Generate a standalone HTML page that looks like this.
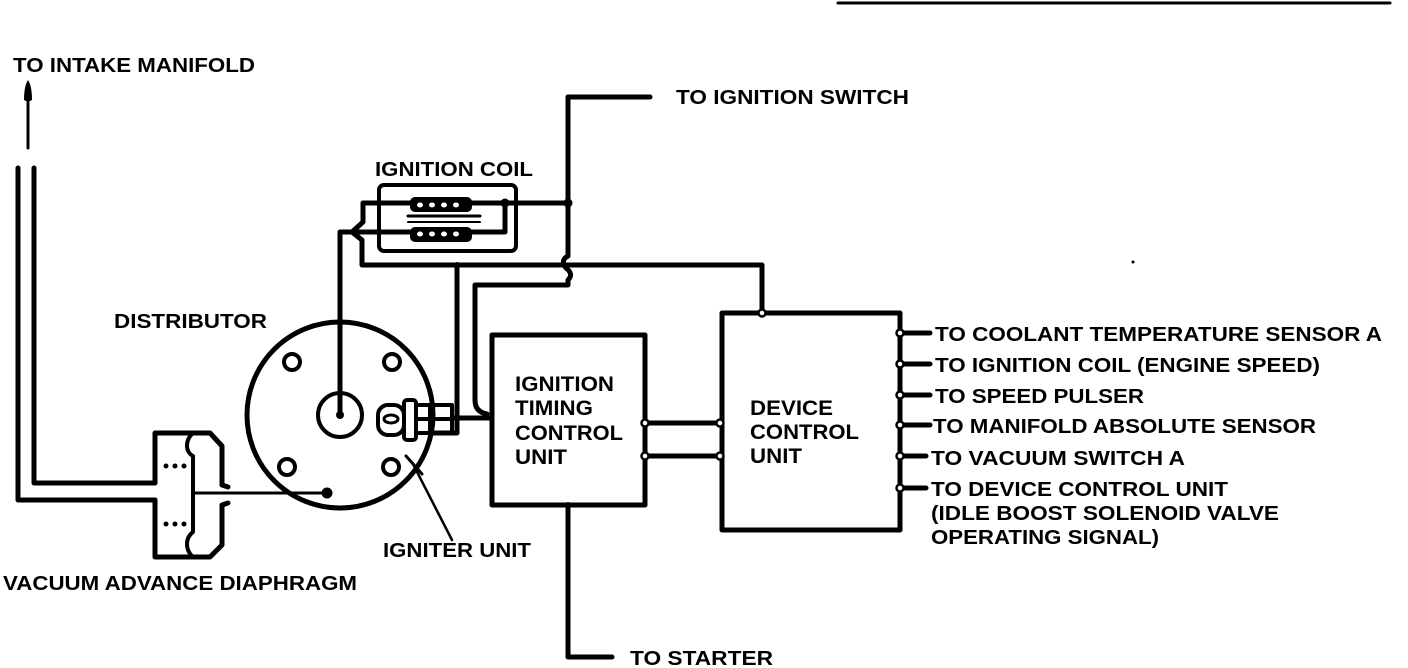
<!DOCTYPE html>
<html><head><meta charset="utf-8"><style>
html,body{margin:0;padding:0;background:#fff;}
svg{display:block;}
text{font-family:"Liberation Sans",Arial,sans-serif;font-weight:bold;fill:#000;}
</style></head><body>
<svg width="1408" height="668" viewBox="0 0 1408 668" xmlns="http://www.w3.org/2000/svg">
<g fill="none" stroke="#000" stroke-width="5" stroke-linejoin="round" stroke-linecap="round">
<line x1="838" y1="3" x2="1390" y2="3" stroke-width="3"/>
<line x1="28" y1="92" x2="28" y2="148" stroke-width="3"/>
<path d="M18,168 V500 H155"/>
<path d="M34,168 V483 H155"/>
<path d="M155,483 V433 H210 L222,446 V485 L228,487"/>
<path d="M155,500 V557 H210 L222,545 V505 L228,503"/>
<path d="M193,433 C185,440 185,452 193,456 V532 C185,538 185,550 193,557" stroke-width="4"/>
<line x1="195" y1="493" x2="326" y2="493" stroke-width="3"/>
<circle cx="327" cy="493" r="3" fill="#000"/>
<circle cx="340" cy="415" r="93"/>
<circle cx="340" cy="415" r="22" stroke-width="4"/>
<circle cx="292" cy="362" r="8" stroke-width="4"/>
<circle cx="392" cy="362" r="8" stroke-width="4"/>
<circle cx="287" cy="467" r="8" stroke-width="4"/>
<circle cx="391" cy="467" r="8" stroke-width="4"/>
<rect x="378" y="405" width="26" height="30" rx="10" stroke-width="4"/>
<ellipse cx="391" cy="419" rx="7" ry="4" stroke-width="3"/>
<rect x="404" y="400" width="12" height="40" rx="3" stroke-width="4"/>
<rect x="416" y="405" width="36" height="28" stroke-width="4"/>
<line x1="430" y1="405" x2="430" y2="433" stroke-width="4"/>
<line x1="416" y1="419" x2="452" y2="419" stroke-width="4"/>
<line x1="452" y1="540" x2="414" y2="466" stroke-width="2.5"/>
<path d="M406,456 L422,474" stroke-width="3"/>
<rect x="379" y="185" width="137" height="66" rx="5" stroke-width="4"/>
<line x1="408" y1="216" x2="480" y2="216" stroke-width="3"/>
<line x1="408" y1="222" x2="480" y2="222" stroke-width="2"/>
<path d="M410,203 H363 V222 L352,232"/>
<path d="M410,232 H340 V415"/>
<path d="M470,203 H568"/>
<path d="M470,232 H505 V203"/>
<path d="M568,97 V256 q-8,4 -2,12 q8,6 2,12 V285 H475 V400 q0,12 12,14"/>
<line x1="568" y1="97" x2="650" y2="97"/>
<path d="M352,232 L362,240 V265 H762 V313"/>
<path d="M457,265 V433 H430"/>
<path d="M452,418 H492"/>
<rect x="492" y="335" width="153" height="170"/>
<path d="M568,505 V657 H612"/>
<rect x="722" y="313" width="178" height="217"/>
<path d="M645,423 H720 M645,456 H720"/>
<path d="M900,333 H930 M900,364 H930 M900,395 H930 M900,425 H930 M900,456 H926 M900,488 H926"/>
</g>
<!-- coil windings -->
<g fill="#000">
<rect x="410" y="197" width="62" height="15" rx="5"/>
<rect x="410" y="227" width="62" height="15" rx="5"/>
</g>
<g fill="#fff">
<ellipse cx="420" cy="205" rx="3" ry="2.5"/><ellipse cx="432" cy="205" rx="3" ry="2.5"/><ellipse cx="444" cy="205" rx="3" ry="2.5"/><ellipse cx="456" cy="205" rx="3" ry="2.5"/>
<ellipse cx="420" cy="234" rx="3" ry="2.5"/><ellipse cx="432" cy="234" rx="3" ry="2.5"/><ellipse cx="444" cy="234" rx="3" ry="2.5"/><ellipse cx="456" cy="234" rx="3" ry="2.5"/>
</g>
<g fill="#fff" stroke="#000" stroke-width="2.5">
<circle cx="645" cy="423" r="3.5"/><circle cx="645" cy="456" r="3.5"/>
<circle cx="720" cy="423" r="3.5"/><circle cx="720" cy="456" r="3.5"/>
<circle cx="762" cy="313" r="3.5"/>
<circle cx="900" cy="333" r="3.5"/><circle cx="900" cy="364" r="3.5"/><circle cx="900" cy="395" r="3.5"/>
<circle cx="900" cy="425" r="3.5"/><circle cx="900" cy="456" r="3.5"/><circle cx="900" cy="488" r="3.5"/>
</g>
<g fill="#000">
<path d="M28,80 Q32,86 32,100 L28,102 L24,100 Q24,86 28,80 Z"/>
<circle cx="568" cy="203" r="4.5"/><circle cx="505" cy="203" r="4.5"/>
<circle cx="340" cy="415" r="4"/>
<circle cx="457" cy="265" r="3"/><circle cx="568" cy="505" r="3"/>
<circle cx="1133" cy="262" r="1.5"/>
<circle cx="166" cy="466" r="2.5"/><circle cx="175" cy="466" r="2.5"/><circle cx="184" cy="466" r="2.5"/>
<circle cx="166" cy="524" r="2.5"/><circle cx="175" cy="524" r="2.5"/><circle cx="184" cy="524" r="2.5"/>
</g>
<g font-size="20">
<text x="13" y="72" textLength="242" lengthAdjust="spacingAndGlyphs">TO INTAKE MANIFOLD</text>
<text x="676" y="104" textLength="233" lengthAdjust="spacingAndGlyphs">TO IGNITION SWITCH</text>
<text x="375" y="176" textLength="158" lengthAdjust="spacingAndGlyphs">IGNITION COIL</text>
<text x="114" y="328" textLength="153" lengthAdjust="spacingAndGlyphs">DISTRIBUTOR</text>
<text x="515" y="391" font-size="21" textLength="99" lengthAdjust="spacingAndGlyphs">IGNITION</text>
<text x="515" y="415" font-size="21" textLength="78" lengthAdjust="spacingAndGlyphs">TIMING</text>
<text x="515" y="440" font-size="21" textLength="108" lengthAdjust="spacingAndGlyphs">CONTROL</text>
<text x="515" y="464" font-size="21" textLength="52" lengthAdjust="spacingAndGlyphs">UNIT</text>
<text x="750" y="415" font-size="21" textLength="83" lengthAdjust="spacingAndGlyphs">DEVICE</text>
<text x="750" y="439" font-size="21" textLength="109" lengthAdjust="spacingAndGlyphs">CONTROL</text>
<text x="750" y="463" font-size="21" textLength="52" lengthAdjust="spacingAndGlyphs">UNIT</text>
<text x="383" y="557" textLength="148" lengthAdjust="spacingAndGlyphs">IGNITER UNIT</text>
<text x="3" y="590" textLength="354" lengthAdjust="spacingAndGlyphs">VACUUM ADVANCE DIAPHRAGM</text>
<text x="630" y="665" textLength="143" lengthAdjust="spacingAndGlyphs">TO STARTER</text>
<text x="935" y="341" textLength="447" lengthAdjust="spacingAndGlyphs">TO COOLANT TEMPERATURE SENSOR A</text>
<text x="935" y="372" textLength="385" lengthAdjust="spacingAndGlyphs">TO IGNITION COIL (ENGINE SPEED)</text>
<text x="935" y="403" textLength="209" lengthAdjust="spacingAndGlyphs">TO SPEED PULSER</text>
<text x="933" y="433" textLength="383" lengthAdjust="spacingAndGlyphs">TO MANIFOLD ABSOLUTE SENSOR</text>
<text x="931" y="465" textLength="254" lengthAdjust="spacingAndGlyphs">TO VACUUM SWITCH A</text>
<text x="931" y="496" textLength="297" lengthAdjust="spacingAndGlyphs">TO DEVICE CONTROL UNIT</text>
<text x="931" y="520" textLength="348" lengthAdjust="spacingAndGlyphs">(IDLE BOOST SOLENOID VALVE</text>
<text x="931" y="544" textLength="228" lengthAdjust="spacingAndGlyphs">OPERATING SIGNAL)</text>
</g>
</svg>
</body></html>
